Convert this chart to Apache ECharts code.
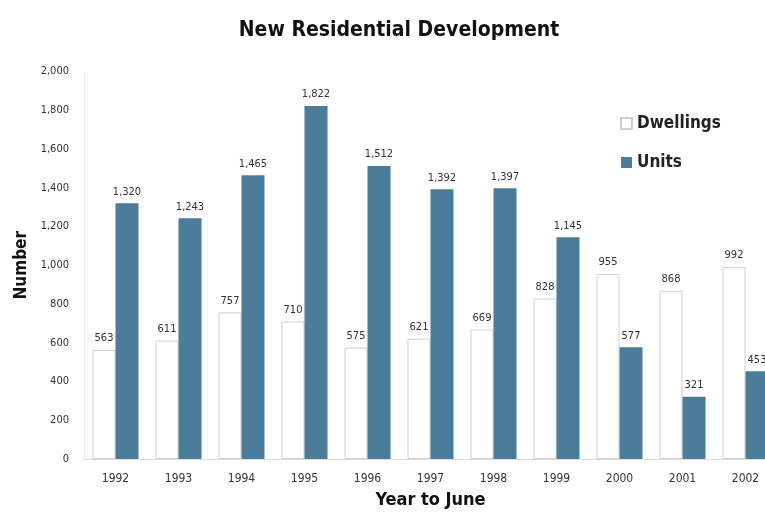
<!DOCTYPE html>
<html><head><meta charset="utf-8">
<script src="https://cdn.jsdelivr.net/npm/echarts@6/dist/echarts.min.js"></script>
<style>html,body{margin:0;padding:0;background:#fff}#c{width:765px;height:512px}</style>
</head><body><div id="c"></div>
<script>
var years = ['1992','1993','1994','1995','1996','1997','1998','1999','2000','2001','2002'];
var dwellings = [563, 611, 757, 710, 575, 621, 669, 828, 955, 868, 992];
var units = [1320, 1243, 1465, 1822, 1512, 1392, 1397, 1145, 577, 321, 453];
var yTicks = [0, 200, 400, 600, 800, 1000, 1200, 1400, 1600, 1800, 2000];

var F = '"Liberation Sans Narrow", "DejaVu Sans Condensed", sans-serif';
function fmt(v){ return String(v).replace(/\B(?=(\d{3})+(?!\d))/g, ','); }
var chart = echarts.init(document.getElementById('c'));
chart.setOption({
  animation: false,
  title: {
    text: 'New Residential Development',
    left: 394, top: 15, textAlign: 'center',
    textStyle: { fontFamily: F, fontWeight: 'bold', fontSize: 21, color: '#111' }
  },
  legend: {
    orient: 'vertical', left: 615, top: 110, itemWidth: 11, itemHeight: 11, itemGap: 22,
    icon: 'rect',
    textStyle: { fontFamily: F, fontWeight: 'bold', fontSize: 17, color: '#222' },
    data: ['Dwellings', 'Units']
  },
  grid: { left: 84, width: 693, top: 71.5, height: 387.5, containLabel: false, outerBoundsMode: 'none' },
  xAxis: {
    type: 'category', data: years,
    name: 'Year to June', nameLocation: 'middle', nameGap: 32,
    nameTextStyle: { fontFamily: F, fontWeight: 'bold', fontSize: 18, color: '#111' },
    axisLine: { lineStyle: { color: '#ddd' } },
    axisTick: { show: false },
    axisLabel: { fontFamily: F, fontSize: 12, color: '#333', margin: 14 }
  },
  yAxis: {
    type: 'value', min: yTicks[0], max: yTicks[yTicks.length-1], interval: 200,
    name: 'Number', nameLocation: 'middle', nameGap: 50, nameRotate: 90,
    nameTextStyle: { fontFamily: F, fontWeight: 'bold', fontSize: 17, color: '#111' },
    axisLine: { show: true, lineStyle: { color: '#eee' } },
    axisTick: { show: false },
    splitLine: { show: false },
    axisLabel: { fontFamily: F, fontSize: 11, color: '#333', margin: 15, formatter: fmt }
  },
  series: [
    { name: 'Dwellings', type: 'bar', data: dwellings, barWidth: 23, barGap: '0%',
      itemStyle: { color: '#fff', borderColor: '#cfcfcf', borderWidth: 1 },
      label: { show: true, position: 'top', distance: 6, fontFamily: F, fontSize: 11, color: '#333', formatter: function(p){return fmt(p.value);} } },
    { name: 'Units', type: 'bar', data: units, barWidth: 23,
      itemStyle: { color: '#4b7d9b' },
      label: { show: true, position: 'top', distance: 6, fontFamily: F, fontSize: 11, color: '#333', formatter: function(p){return fmt(p.value);} } }
  ]
});
</script></body></html>
